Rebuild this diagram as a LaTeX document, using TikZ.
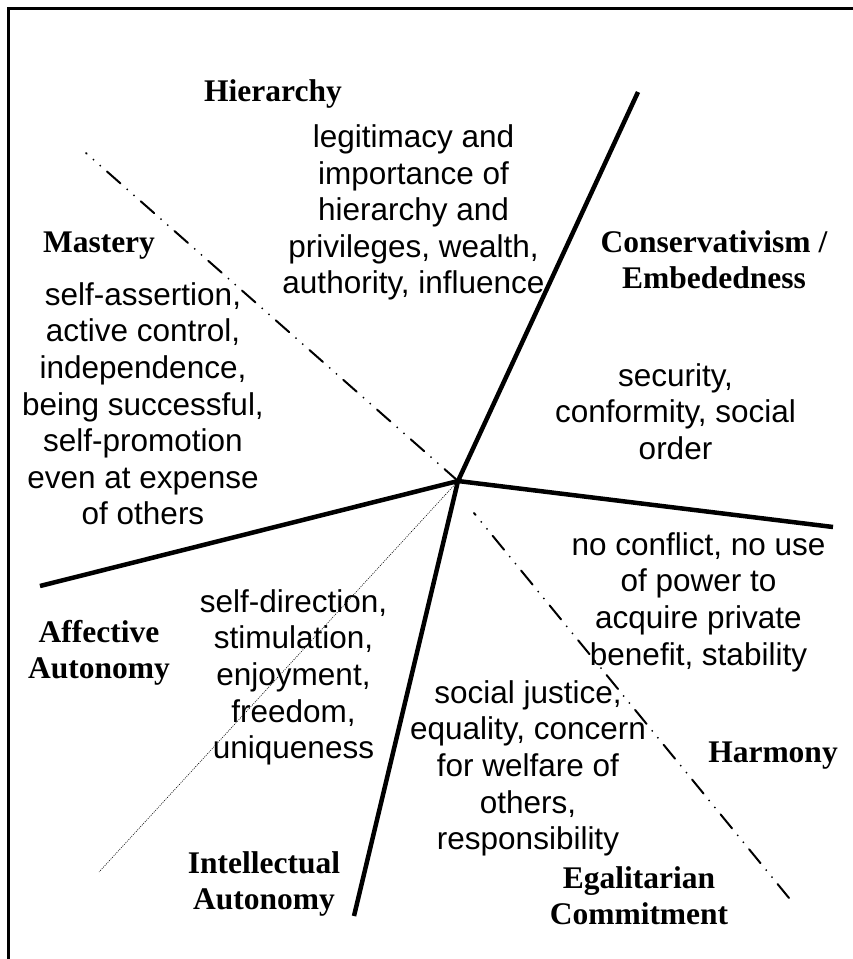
\documentclass[tikz,border=0pt]{standalone}
\usepackage{fontspec}
\newfontfamily\descfamily{Liberation Sans}
\newfontfamily\labfamily{Liberation Serif}
\newcommand\mystrut{\rule{0pt}{30pt}}
\begin{document}
\begin{tikzpicture}[x=1pt,y=-1pt,
  desc/.style={font=\descfamily\fontsize{31.5}{36.6}\selectfont, align=center, anchor=north, inner sep=0pt},
  lab/.style={font=\labfamily\bfseries\fontsize{31.5}{36}\selectfont, align=center, anchor=north, inner sep=0pt},
  axisline/.style={line width=4.5pt, line join=miter},
  dashdotline/.style={line width=2pt, line cap=round, dash pattern=on 18pt off 9pt on 0pt off 9pt on 0pt off 9pt},
  thindotline/.style={line width=0.6pt, dash pattern=on 1pt off 1.2pt},
  frameline/.style={line width=2.5pt}]
\useasboundingbox (0,0) rectangle (852,959);
% frame (only top and left edges visible)
\draw[frameline] (8.7,965) -- (8.7,8.7) -- (860,8.7);

% coordinates
\coordinate (c) at (458,481);
\coordinate (ne) at (638,92);
\coordinate (e) at (833,527);
\coordinate (w) at (40,586);
\coordinate (s) at (354,916);
\coordinate (nw) at (86,153);
\coordinate (se1) at (474,513);
\coordinate (se2) at (789,898);
\coordinate (sw) at (99,872);

% lines
\draw[dashdotline] (c) -- (nw);
\draw[dashdotline] (se2) -- (se1);
\draw[thindotline] (c) -- (sw);
\draw[axisline] (w) -- (c) -- (e);
\draw[axisline] (ne) -- (c) -- (s);

% labels (first baseline minus 30)
\node[lab] (hier) at (273,71.5) {\mystrut Hierarchy};
\node[lab] (mast) at (99,222) {\mystrut Mastery};
\node[lab] (cons) at (714,222) {\mystrut Conservativism /\\Embededness};
\node[lab] (aff) at (99,612) {\mystrut Affective\\Autonomy};
\node[lab] (intel) at (264,843) {\mystrut Intellectual\\Autonomy};
\node[lab] (harm) at (773,732) {\mystrut Harmony};
\node[lab] (egal) at (639,858) {\mystrut Egalitarian\\Commitment};

% descriptions
\node[desc] (dhier) at (413.5,117.3) {\mystrut legitimacy and\\importance of\\hierarchy and\\privileges, wealth,\\authority, influence};
\node[desc] (dmast) at (143,275) {\mystrut self-assertion,\\active control,\\independence,\\being successful,\\self-promotion\\even at expense\\of others};
\node[desc] (dcons) at (675.5,356) {\mystrut security,\\conformity, social\\order};
\node[desc] (dharm) at (698.5,525) {\mystrut no conflict, no use\\of power to\\acquire private\\benefit, stability};
\node[desc] (daff) at (293.5,582) {\mystrut self-direction,\\stimulation,\\enjoyment,\\freedom,\\uniqueness};
\node[desc] (degal) at (528,673) {\mystrut social justice,\\equality, concern\\for welfare of\\others,\\responsibility};
\end{tikzpicture}
\end{document}
